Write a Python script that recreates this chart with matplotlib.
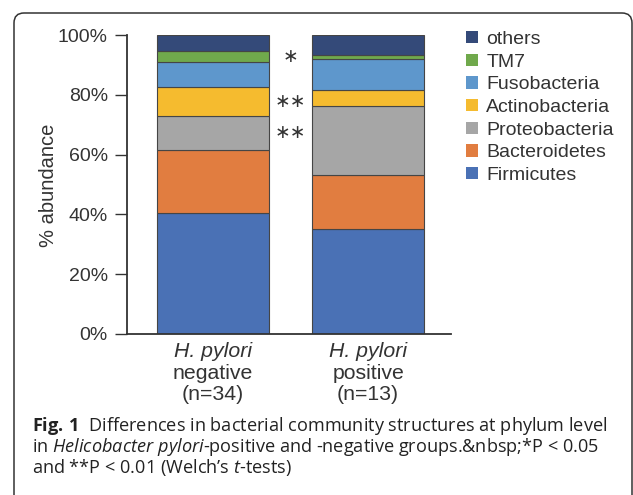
import matplotlib
matplotlib.use("Agg")
import matplotlib.pyplot as plt
from matplotlib.patches import Patch, FancyBboxPatch
from matplotlib.transforms import IdentityTransform

plt.rcParams['font.family'] = ['Liberation Sans', 'DejaVu Sans']
plt.rcParams['mathtext.fontset'] = 'custom'
plt.rcParams['mathtext.rm'] = 'Open Sans'
plt.rcParams['mathtext.it'] = 'Open Sans:italic'
plt.rcParams['mathtext.bf'] = 'Open Sans:bold'

# данные (% abundance), снизу вверх
groups = ['negative', 'positive']
group_n = [34, 13]
phyla = ['Firmicutes', 'Bacteroidetes', 'Proteobacteria', 'Actinobacteria',
         'Fusobacteria', 'TM7', 'others']
firmicutes = [40.4, 35.1]
bacteroidetes = [21.2, 18.1]
proteobacteria = [11.3, 23.1]
actinobacteria = [9.6, 5.2]
fusobacteria = [8.6, 10.4]
tm7 = [3.5, 1.5]
others = [5.4, 6.6]
signif = {'Proteobacteria': '**', 'Actinobacteria': '**', 'TM7': '*'}
yticks = [0, 20, 40, 60, 80, 100]
ytick_labels = ['0%', '20%', '40%', '60%', '80%', '100%']

colors = ['#4a71b5', '#e17d40', '#a6a6a6', '#f5bb2f', '#5e97cc', '#70a94c', '#344a79']
values = [firmicutes, bacteroidetes, proteobacteria, actinobacteria,
          fusobacteria, tm7, others]

TXT = '#333333'
W, H = 633, 495
fig = plt.figure(figsize=(W / 100, H / 100), dpi=100)
ax = fig.add_axes([126.7 / W, 1 - 334 / H, 324 / W, 299 / H])

x = list(range(len(groups)))
bottom = [0.0] * len(groups)
star_pos = {}
for name, vals, col in zip(phyla, values, colors):
    ax.bar(x, vals, 0.72, bottom=bottom, color=col, edgecolor='#454545',
           linewidth=0.8, label=name)
    star_pos[name] = bottom[0] + vals[0] / 2
    bottom = [b + v for b, v in zip(bottom, vals)]

# звездочки значимости между столбцами
for name, mark in signif.items():
    ax.text(0.5, star_pos[name], mark.replace('*', '\u2217'), ha='center', va='center',
            fontsize=13.5, color=TXT, family='DejaVu Sans')

ax.set_xlim(-0.553, 1.531)
ax.set_ylim(0, 100)
ax.set_yticks(yticks, ytick_labels)
ax.set_xticks([])
for s in ['top', 'right']:
    ax.spines[s].set_visible(False)
for s in ['left', 'bottom']:
    ax.spines[s].set_linewidth(1.3)
    ax.spines[s].set_color(TXT)
ax.tick_params(axis='y', length=8.6, width=1.0, color=TXT, pad=5,
               labelsize=14, labelcolor=TXT)

for i, (g, n) in enumerate(zip(groups, group_n)):
    for txt, dy, style in [('H. pylori', -23, 'italic'), (g, -45, 'normal'),
                           (f'(n={n})', -66, 'normal')]:
        ax.annotate(txt, xy=(i, 0), xycoords=('data', 'axes fraction'),
                    xytext=(0, dy), textcoords='offset pixels', ha='center',
                    va='baseline', fontsize=15.3, fontstyle=style, color=TXT)

fig.text(49 / W, 1 - 185 / H, '% abundance', rotation=90, ha='center',
         va='center', fontsize=14.5, color=TXT)

handles = [Patch(facecolor=c, edgecolor='none', label=p)
           for p, c in zip(phyla[::-1], colors[::-1])]
leg = fig.legend(handles=handles, loc='upper left', bbox_to_anchor=(466 / W, 1 - 31 / H),
                 frameon=False, fontsize=14, handlelength=0.6, handleheight=0.6,
                 handletextpad=0.45, labelspacing=0.29, borderpad=0, borderaxespad=0)
for t in leg.get_texts():
    t.set_color(TXT)

# подпись к рисунку
cap = [r"$\mathbf{Fig.\,1}$  Differences in bacterial community structures at phylum level",
       r"in $\mathit{Helicobacter\ pylori}$-positive and -negative groups.&nbsp;*P < 0.05",
       "and **P < 0.01 (Welch\u2019s $\\mathit{t}$-tests)"]
for k, line in enumerate(cap):
    fig.text(31.5 / W, 1 - (431 + 21 * k) / H, line, ha='left', va='baseline',
             fontsize=13.1, family='Open Sans', color='#222222')

box = FancyBboxPatch((14, -60), 618, H - 13 + 60,
                     boxstyle='round,pad=0,rounding_size=10',
                     transform=IdentityTransform(), fill=False,
                     ec='#333333', lw=1.1)
fig.add_artist(box)

fig.savefig('out.png', dpi=100)
